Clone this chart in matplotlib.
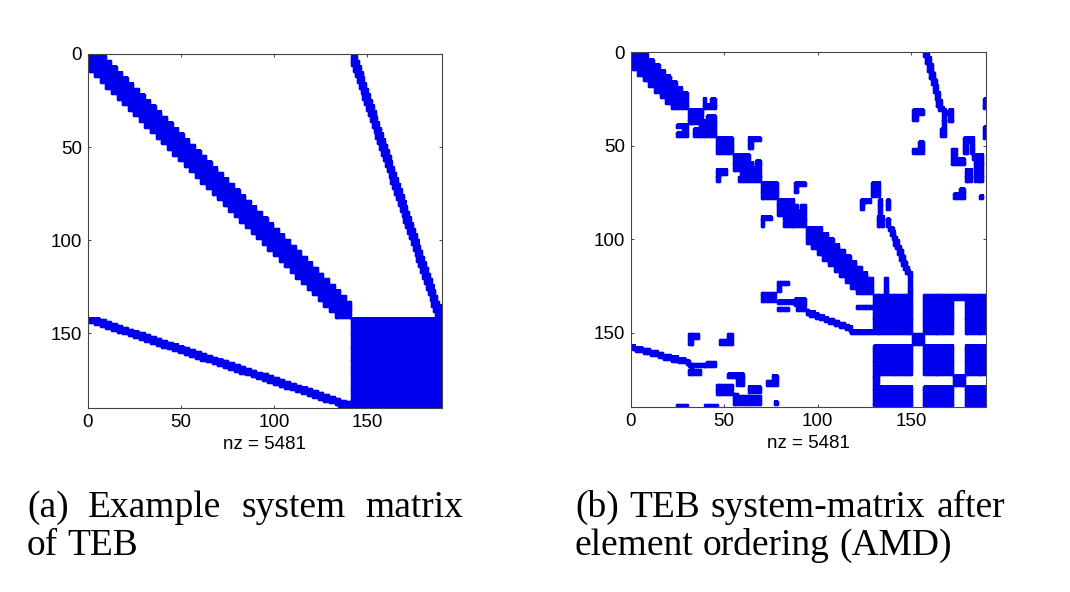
import numpy as np
import matplotlib
matplotlib.use("Agg")
import matplotlib.pyplot as plt
from matplotlib.colors import ListedColormap

# matrix size and drawing colour
N = 189
BLUE = "#0000ee"
NZ_LABEL = "nz = 5481"

# ---- (a) original ordering ----
# bands: (first, last, block size, half band in blocks)
A_BANDS = [(0, 140, 3, 2)]
# dense rectangles: (row0, row1, col0, col1), inclusive
A_RECTS = [(141, 188, 141, 188)]
# sloped strips: (row0, col0, row1, col1, width in cols)
A_LINES = [(141, 0, 188, 140, 12)]

# ---- (b) after AMD element ordering (upper/lower parts, mirrored later) ----
B_BANDS = [(0, 29, 3, 2), (93, 128, 3, 2)]
B_GROUPS = [(129, 149), (156, 171), (178, 188)]   # dense groups in the corner
B_RECTS = [
    (30, 37, 30, 37), (36, 44, 36, 44), (40, 44, 33, 39),
    (45, 53, 45, 53), (54, 62, 54, 62), (69, 77, 69, 77), (78, 86, 78, 86),
    (24, 29, 38, 39), (24, 29, 42, 44), (27, 29, 38, 44),
    (45, 46, 62, 68), (45, 50, 62, 64),
    (61, 68, 63, 68), (58, 60, 63, 64), (58, 60, 67, 68), (66, 68, 57, 62),
    (69, 70, 87, 92), (69, 74, 87, 88),
    (84, 92, 87, 92), (81, 83, 87, 88), (81, 83, 91, 92), (90, 92, 81, 86),
    (150, 155, 150, 155), (172, 177, 172, 177), (172, 177, 129, 131),
    (69, 76, 128, 132), (78, 79, 122, 127), (78, 83, 122, 123),
    (78, 90, 132, 133), (78, 83, 136, 137), (87, 92, 131, 134), (88, 92, 136, 137),
    (120, 127, 135, 136), (135, 136, 121, 128),
    (30, 32, 150, 155), (30, 35, 150, 152),
    (51, 53, 150, 155), (47, 53, 153, 155),
    (24, 29, 188, 188), (39, 45, 188, 188),
    (30, 44, 166, 167), (30, 36, 169, 171), (40, 44, 165, 167), (31, 32, 166, 171),
    (45, 53, 177, 179), (45, 53, 181, 182), (45, 47, 177, 182),
    (51, 59, 171, 173), (56, 59, 171, 177),
    (54, 68, 183, 185), (57, 68, 186, 187), (54, 56, 182, 187),
    (62, 68, 178, 181),
    (75, 77, 172, 177), (72, 77, 175, 177), (76, 77, 186, 187),
]
B_LINES = [(0, 157, 30, 165, 3), (93, 138, 117, 147, 3), (117, 148, 128, 148, 2)]

TICKS = [0, 50, 100, 150]
CAPTION_A = [["(a)", "Example", "system", "matrix"], ["of", "TEB"]]
CAPTION_B = [["(b)", "TEB", "system-matrix", "after"], ["element", "ordering", "(AMD)"]]


def build(bands, rects, lines, groups=()):
    M = np.zeros((N, N), dtype=bool)
    for s, e, bs, hw in bands:
        for i in range(s, e + 1):
            b = (i - s) // bs
            j0 = s + max(b - hw, 0) * bs
            j1 = min(s + (b + hw + 1) * bs - 1, e)
            M[i, j0:j1 + 1] = True
    for r0, r1, c0, c1 in rects:
        M[r0:r1 + 1, c0:c1 + 1] = True
    for r0, c0, r1, c1, w in lines:
        for r in range(r0, r1 + 1):
            c = c0 + (c1 - c0) * (r - r0) / max(r1 - r0, 1)
            lo = int(round(c - w / 2 + 0.5))
            M[r, max(lo, 0):min(lo + w, N)] = True
    for g1 in groups:
        for g2 in groups:
            M[g1[0]:g1[1] + 1, g2[0]:g2[1] + 1] = True
    return M | M.T


fig = plt.figure(figsize=(10.70, 5.92), dpi=100)
ax_a = fig.add_axes([0.0820, 0.3108, 0.3308, 0.598])
ax_b = fig.add_axes([0.5894, 0.3120, 0.3322, 0.5997])

cmap = ListedColormap(["white", BLUE])
mats = [build(A_BANDS, A_RECTS, A_LINES), build(B_BANDS, B_RECTS, B_LINES, B_GROUPS)]
for ax, M in zip([ax_a, ax_b], mats):
    # solid cells, then round dots on top for the soft MATLAB spy edges
    ax.spy(M, cmap=cmap)
    ax.spy(M, marker="o", markersize=2.7, markerfacecolor=BLUE,
           markeredgewidth=0, color=BLUE)
    ax.set_aspect("auto")
    ax.set_xlim(-1, N)
    ax.set_ylim(N, -1)
    ax.set_xticks([t - 1 for t in TICKS])
    ax.set_yticks([t - 1 for t in TICKS])
    ax.set_xticklabels([str(t) for t in TICKS])
    ax.set_yticklabels([str(t) for t in TICKS])
    ax.xaxis.set_ticks_position("both")
    ax.yaxis.set_ticks_position("both")
    ax.tick_params(axis="both", direction="in", length=2.5, width=0.7,
                   color="#444444", labelsize=13.5, pad=4,
                   labeltop=False, labelbottom=True)
    for sp in ax.spines.values():
        sp.set_color("#444444")
        sp.set_linewidth(0.8)
        sp.set_zorder(3)
    ax.set_xlabel(NZ_LABEL, fontsize=13.5, labelpad=4)
    for lab in ax.get_xticklabels() + ax.get_yticklabels() + [ax.xaxis.label]:
        lab.set_family("Liberation Sans")

# captions, justified like the paper's text column
SERIF = "Liberation Serif"
CAP_FS = 27
renderer = fig.canvas.get_renderer()
W, H = fig.bbox.width, fig.bbox.height


def caption(lines, x0, x1, ys):
    for i, (words, y) in enumerate(zip(lines, ys)):
        ts = [fig.text(0, 1 - y / H, w, fontsize=CAP_FS, family=SERIF,
                       va="baseline", ha="left") for w in words]
        ws = [t.get_window_extent(renderer).width / W for t in ts]
        if i == len(lines) - 1:
            gap = 0.25 * CAP_FS * 100 / 72 / W   # normal word space
        else:
            gap = ((x1 - x0) / W - sum(ws)) / (len(words) - 1)
        x = x0 / W
        for t, w in zip(ts, ws):
            t.set_x(x)
            x += w + gap


caption(CAPTION_A, 27, 463, [517, 555])
caption(CAPTION_B, 575, 1005, [517, 555])

fig.savefig("out.png", dpi=100, facecolor="white")
